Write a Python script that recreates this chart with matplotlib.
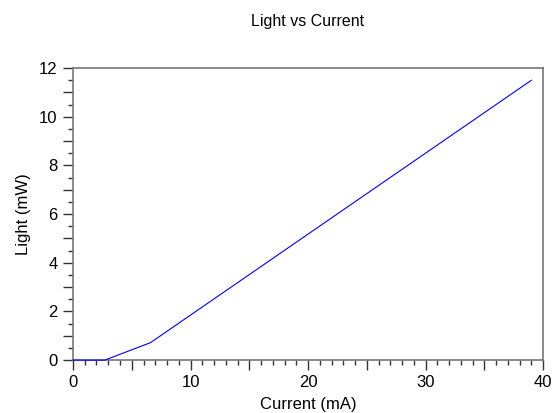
import matplotlib
matplotlib.use("Agg")
import matplotlib.pyplot as plt
from matplotlib.ticker import MultipleLocator, FuncFormatter

plt.rcParams['font.family'] = ['Liberation Sans', 'DejaVu Sans']

# laser diode L-I curve
current = [0, 2.7, 6.6, 39]
light = [0, 0, 0.72, 11.5]

fig = plt.figure(figsize=(5.53, 4.13), dpi=100)
ax = fig.add_axes([0.132, 0.128, 0.85, 0.707])

ax.plot(current, light, color='blue', linewidth=0.8, clip_on=False, zorder=5)

ax.set_xlim(0, 40)
ax.set_ylim(0, 12)
# labels only every 10 / every 2, unlabeled longer ticks in between
ax.xaxis.set_major_locator(MultipleLocator(5))
ax.xaxis.set_minor_locator(MultipleLocator(1))
ax.xaxis.set_major_formatter(FuncFormatter(lambda v, p: f'{v:.0f}' if round(v) % 10 == 0 else ''))
ax.yaxis.set_major_locator(MultipleLocator(1))
ax.yaxis.set_minor_locator(MultipleLocator(0.5))
ax.yaxis.set_major_formatter(FuncFormatter(lambda v, p: f'{v:.0f}' if round(v) % 2 == 0 else ''))

for s in ax.spines.values():
    s.set_color('#777777')
    s.set_linewidth(1.2)

ax.tick_params(which='major', direction='out', length=7, width=1, color='#333333',
               labelsize=12, pad=4)
ax.tick_params(which='minor', direction='out', length=3.5, width=1, color='#333333')

ax.set_title('Light vs Current', fontsize=11.5, pad=30)
ax.set_xlabel('Current (mA)', fontsize=12, labelpad=4.5)
ax.set_ylabel('Light (mW)', fontsize=12, labelpad=6)

fig.savefig('out.png', dpi=100)
